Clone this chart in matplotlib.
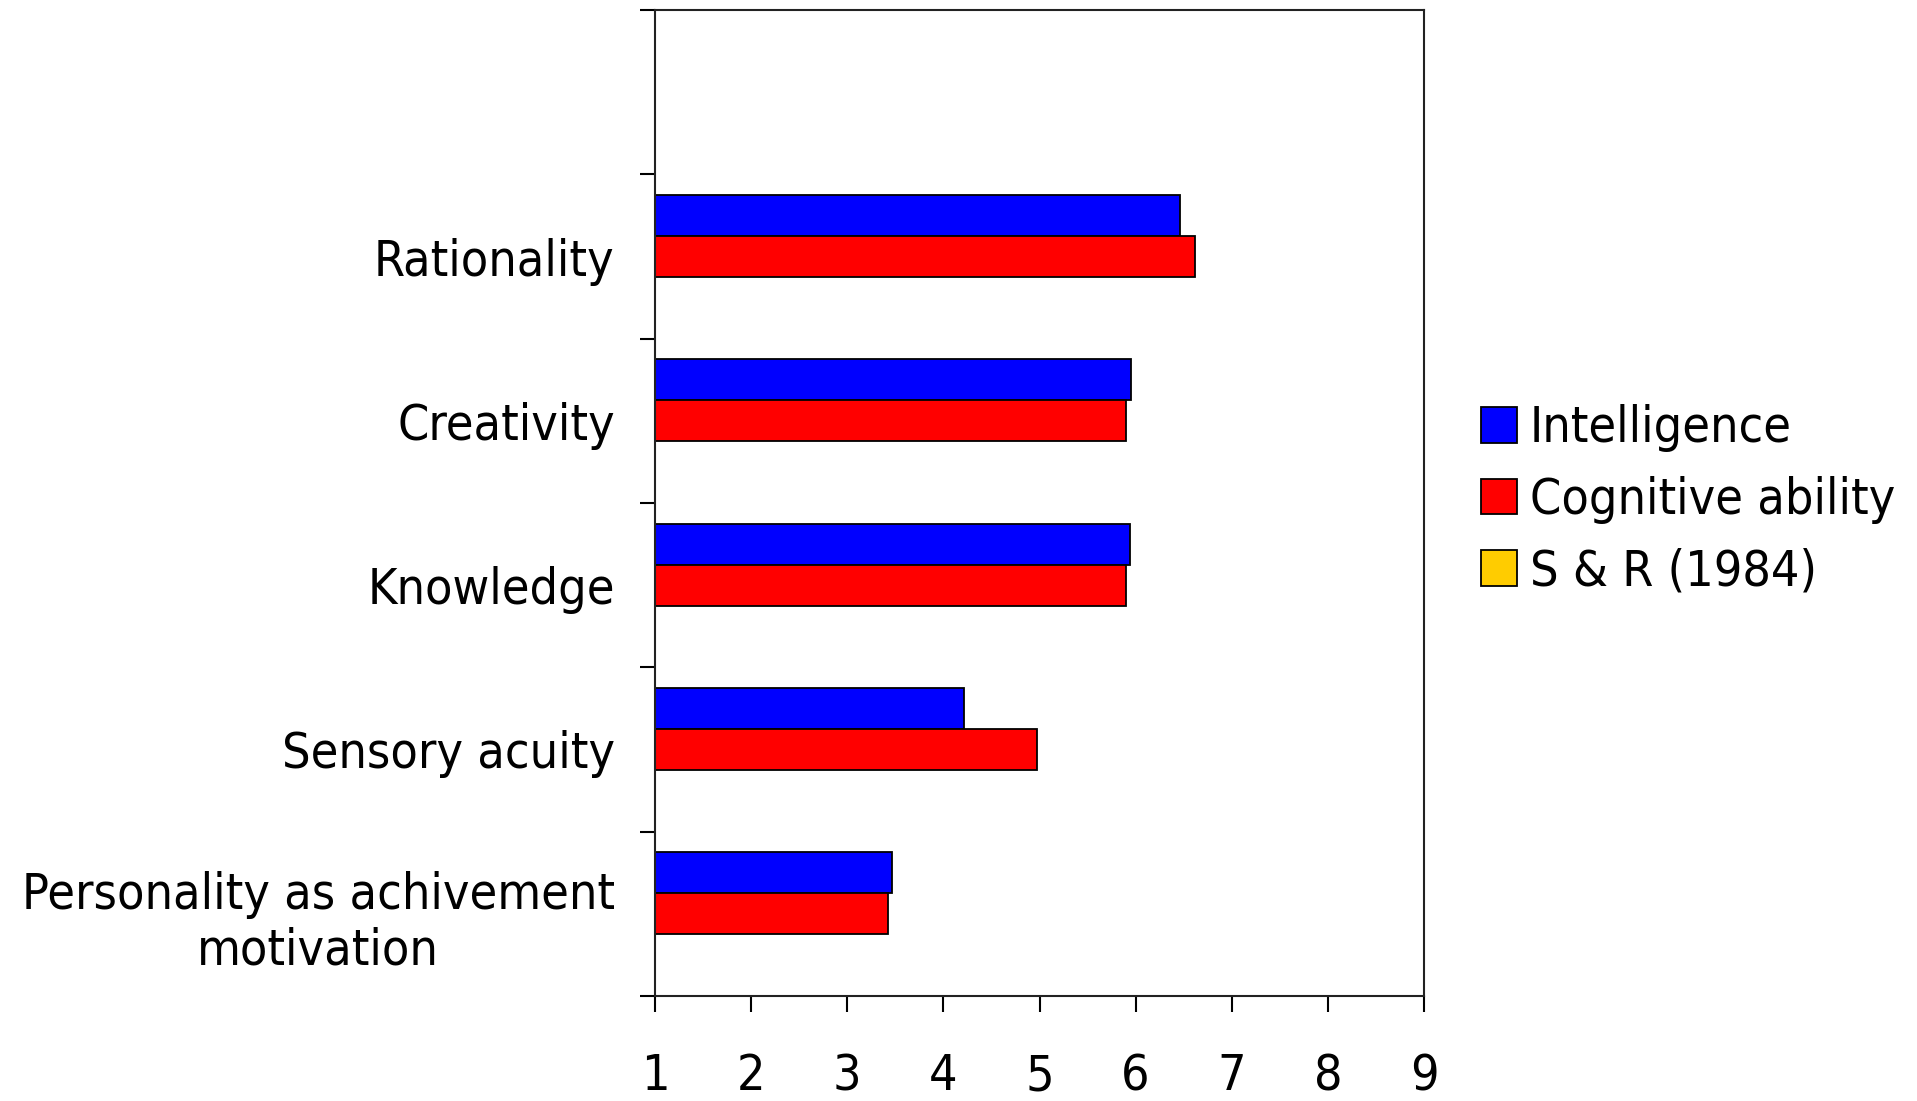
import numpy as np
import matplotlib
matplotlib.use("Agg")
import matplotlib.pyplot as plt
from matplotlib import font_manager as fm

# ---- data ----
categories = ["Personality as achivement\nmotivation", "Sensory acuity", "Knowledge",
              "Creativity", "Rationality", ""]
intelligence = [3.47, 4.21, 5.94, 5.95, 6.46, np.nan]
cognitive = [3.42, 4.97, 5.90, 5.90, 6.62, np.nan]
sr1984 = [np.nan] * 6
series_names = ["Intelligence", "Cognitive ability", "S & R (1984)"]
series_colors = ["#0000FF", "#FF0000", "#FFCC00"]
xticks = [1, 2, 3, 4, 5, 6, 7, 8, 9]

# font: prefer a condensed face similar to Tahoma
names = {f.name for f in fm.fontManager.ttflist}
cond = [f for f in fm.fontManager.ttflist if f.name == "DejaVu Sans" and "ondensed" in f.fname
        and "Bold" not in f.fname and "Oblique" not in f.fname]
if cond:
    plt.rcParams["font.family"] = ["DejaVu Sans"]
    plt.rcParams["font.stretch"] = "condensed"
    FS = 36
elif "Liberation Sans Narrow" in names:
    plt.rcParams["font.family"] = ["Liberation Sans Narrow"]
    FS = 38
else:
    plt.rcParams["font.family"] = ["Liberation Sans"]
    FS = 33

fig = plt.figure(figsize=(19.17, 11.01), dpi=100)
ax = fig.add_axes([655 / 1917, 105 / 1101, 769 / 1917, 986 / 1101])

y = np.arange(len(categories))
h = 0.25
data = [intelligence, cognitive, sr1984]
offsets = [h, 0, -h]
for vals, name, col, off in zip(data, series_names, series_colors, offsets):
    vals = np.array(vals, dtype=float)
    ax.barh(y + off, vals - 1, left=1, height=h, color=col, edgecolor="black",
            linewidth=1.3, label=name)

ax.set_xlim(1, 9)
ax.set_ylim(-0.5, len(categories) - 0.5)
ax.set_xticks(xticks)
ax.set_xticklabels([str(t) for t in xticks], fontsize=FS)
ax.set_yticks(np.arange(-0.5, len(categories), 1.0))
ax.set_yticklabels([])
ax.set_yticks(y, minor=True)
ax.set_yticklabels(categories, minor=True, fontsize=FS, multialignment="center")
ax.tick_params(axis="y", which="minor", length=0, pad=29)
ax.tick_params(axis="y", which="major", length=11, width=1.5, direction="out")
ax.tick_params(axis="x", length=11.5, width=1.5, direction="out", pad=29)
for s in ax.spines.values():
    s.set_linewidth(1.5)
    s.set_color("#222222")

handles, labels = ax.get_legend_handles_labels()
fig.legend(handles, labels, loc="center left", bbox_to_anchor=(1456 / 1917, 1 - 500 / 1101),
           frameon=False, fontsize=FS, handlelength=0.72, handleheight=0.72,
           handletextpad=0.25, labelspacing=0.47, borderpad=0)

fig.savefig("out.png", dpi=100)
